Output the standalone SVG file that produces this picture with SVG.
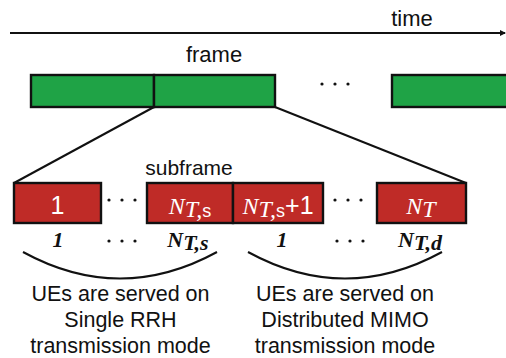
<svg xmlns="http://www.w3.org/2000/svg" width="506" height="358" viewBox="0 0 506 358">
<style>
.sans{font-family:"Liberation Sans",Arial,sans-serif;fill:#111}
.frm{fill:#1fa346;stroke:#111;stroke-width:2.4}
.sub{fill:#bf2b27;stroke:#111;stroke-width:2.4}
.ln{stroke:#111;stroke-width:2;fill:none}
.wt{font-family:"Liberation Serif","Times New Roman",serif;font-style:italic;fill:#fff;font-size:24px}
.ws{font-family:"Liberation Sans",Arial,sans-serif;fill:#fff}
.lbl{font-family:"Liberation Serif","Times New Roman",serif;font-style:italic;font-weight:bold;font-size:22px;fill:#111}
.dot{fill:#111}
</style>
<defs>
<marker id="ah" markerWidth="6" markerHeight="6" refX="5" refY="3" orient="auto" markerUnits="userSpaceOnUse">
<path d="M0,0 L6,3 L0,6 Z" fill="#111"/>
</marker>
</defs>
<g id="connectors">
<line class="ln" x1="10" y1="33" x2="505" y2="33" marker-end="url(#ah)"/>
<line class="ln" x1="154" y1="107" x2="14" y2="183"/>
<line class="ln" x1="275" y1="107" x2="466" y2="183"/>
<path class="ln" d="M23,252 Q120,305 217,252"/>
<path class="ln" d="M248,252 Q345,305 442,252"/>
</g>
<g id="time-label"><text class="sans" x="412" y="26" font-size="22" text-anchor="middle">time</text></g>
<g id="frame-label"><text class="sans" x="214" y="62" font-size="22" text-anchor="middle">frame</text></g>
<g id="frame1"><rect class="frm" x="31" y="75" width="123" height="32"/></g>
<g id="frame2"><rect class="frm" x="154" y="75" width="121" height="32"/></g>
<g id="frame-dots"><circle class="dot" cx="322" cy="84" r="1.6"/><circle class="dot" cx="335" cy="84" r="1.6"/><circle class="dot" cx="348" cy="84" r="1.6"/></g>
<g id="frame3"><rect class="frm" x="392" y="75" width="120" height="32"/></g>
<g id="subframe-label"><text class="sans" x="189" y="175" font-size="21" text-anchor="middle">subframe</text></g>
<g id="sub1"><rect class="sub" x="14" y="183" width="87" height="40"/><text class="ws" x="57.5" y="214" font-size="25" text-anchor="middle">1</text></g>
<g id="sub-dots1"><circle class="dot" cx="109" cy="200" r="1.6"/><circle class="dot" cx="122" cy="200" r="1.6"/><circle class="dot" cx="135" cy="200" r="1.6"/></g>
<g id="sub2"><rect class="sub" x="147" y="183" width="86" height="40"/><text x="190" y="214" text-anchor="middle"><tspan class="wt">N</tspan><tspan class="wt" font-size="16" dy="3">T,</tspan><tspan class="ws" font-size="18">s</tspan></text></g>
<g id="sub3"><rect class="sub" x="233" y="183" width="90" height="40"/><text x="278" y="214" text-anchor="middle"><tspan class="wt">N</tspan><tspan class="wt" font-size="16" dy="3">T,</tspan><tspan class="ws" font-size="18">s</tspan><tspan class="ws" font-size="25" dy="-3">+1</tspan></text></g>
<g id="sub-dots2"><circle class="dot" cx="335" cy="200" r="1.6"/><circle class="dot" cx="348" cy="200" r="1.6"/><circle class="dot" cx="361" cy="200" r="1.6"/></g>
<g id="sub4"><rect class="sub" x="377" y="183" width="89" height="40"/><text x="421" y="214" text-anchor="middle"><tspan class="wt">N</tspan><tspan class="wt" font-size="16" dy="3">T</tspan></text></g>
<g id="index-labels">
<text class="lbl" x="58" y="247" text-anchor="middle">1</text>
<circle class="dot" cx="109" cy="241" r="1.6"/><circle class="dot" cx="122" cy="241" r="1.6"/><circle class="dot" cx="135" cy="241" r="1.6"/>
<text x="188" y="247" text-anchor="middle"><tspan class="lbl">N</tspan><tspan class="lbl" font-size="15" dy="3">T,s</tspan></text>
<text class="lbl" x="282" y="247" text-anchor="middle">1</text>
<circle class="dot" cx="337" cy="241" r="1.6"/><circle class="dot" cx="350" cy="241" r="1.6"/><circle class="dot" cx="363" cy="241" r="1.6"/>
<text x="420" y="247" text-anchor="middle"><tspan class="lbl">N</tspan><tspan class="lbl" font-size="15" dy="3">T,d</tspan></text>
</g>
<g id="desc-left">
<text class="sans" font-size="21.5" text-anchor="middle"><tspan x="120.5" y="301">UEs are served on</tspan><tspan x="120.5" y="327">Single RRH</tspan><tspan x="120.5" y="353">transmission mode</tspan></text>
</g>
<g id="desc-right">
<text class="sans" font-size="21.5" text-anchor="middle"><tspan x="345" y="301">UEs are served on</tspan><tspan x="345" y="327">Distributed MIMO</tspan><tspan x="345" y="353">transmission mode</tspan></text>
</g>
</svg>
